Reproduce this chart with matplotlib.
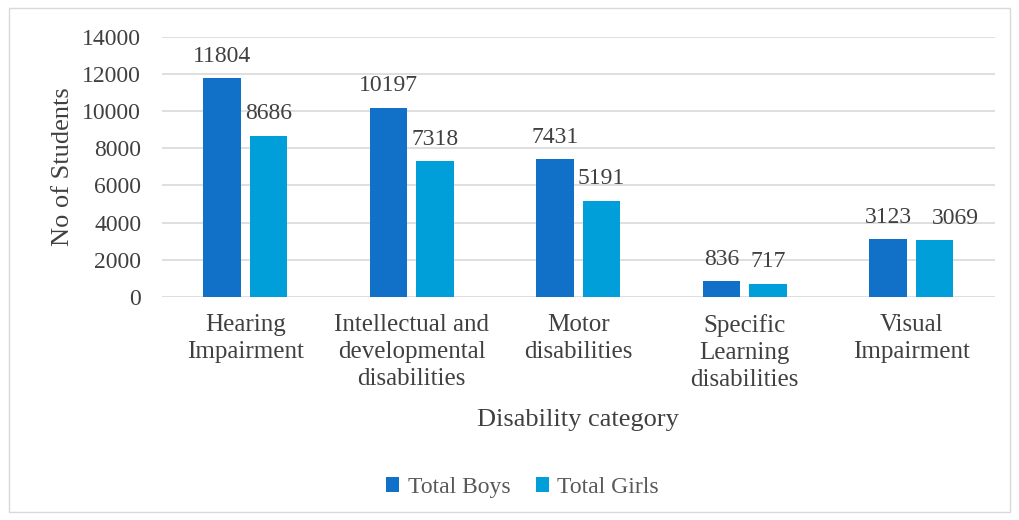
import numpy as np
import matplotlib.pyplot as plt
from matplotlib.patches import Rectangle

categories = ['Hearing\nImpairment', 'Intellectual and\ndevelopmental\ndisabilities',
              'Motor\ndisabilities', 'Specific\nLearning\ndisabilities', 'Visual\nImpairment']
boys = [11804, 10197, 7431, 836, 3123]
girls = [8686, 7318, 5191, 717, 3069]
yticks = [0, 2000, 4000, 6000, 8000, 10000, 12000, 14000]

plt.rcParams['font.family'] = ['Liberation Serif', 'DejaVu Serif']
txt = '#404040'

fig = plt.figure(figsize=(10.19, 5.2), dpi=100)
ax = fig.add_axes([0.159, 0.429, 0.817, 0.5])

x = np.arange(len(categories))
w = 0.225
b1 = ax.bar(x - 0.14, boys, w, color='#1170C8', label='Total Boys', zorder=3)
b2 = ax.bar(x + 0.14, girls, w, color='#009FDA', label='Total Girls', zorder=3)

# data labels; girls' label of the last group is pushed right like Excel does
for k, bars in enumerate((b1, b2)):
    for i, r in enumerate(bars):
        dx = 15 if (k == 1 and i == len(bars) - 1) else 0
        ax.annotate(f'{int(r.get_height())}', (r.get_x() + r.get_width() / 2, r.get_height()),
                    xytext=(dx, 8), textcoords='offset points',
                    ha='center', va='bottom', fontsize=17, color=txt)

ax.set_xlim(-0.5, len(categories) - 0.5)
ax.set_ylim(0, 14000)
ax.set_yticks(yticks)
ax.set_yticklabels([str(v) for v in yticks], fontsize=17, color=txt)
ax.set_xticks(x)
ax.set_xticklabels(categories, fontsize=18, color=txt, linespacing=1.3)
ax.tick_params(axis='both', length=0)
ax.tick_params(axis='y', pad=15)
ax.tick_params(axis='x', pad=12)
ax.grid(axis='y', color='#D9D9D9', linewidth=1.2, zorder=0)
for s in ax.spines.values():
    s.set_visible(False)

ax.set_ylabel('No of Students', fontsize=19, color=txt, labelpad=6)
ax.set_xlabel('Disability category', fontsize=19, color=txt, labelpad=13)

fig.legend(loc='center', bbox_to_anchor=(0.513, 0.063), ncol=2, frameon=False,
           fontsize=17, labelcolor='#595959', handlelength=0.55, handleheight=0.55,
           handletextpad=0.35, columnspacing=1.1)

fig.patches.append(Rectangle((9 / 1019, 1 - 512 / 520), 1001 / 1019, 504 / 520,
                             transform=fig.transFigure, fill=False,
                             edgecolor='#D9D9D9', linewidth=1))

fig.savefig('out.png', dpi=100)
